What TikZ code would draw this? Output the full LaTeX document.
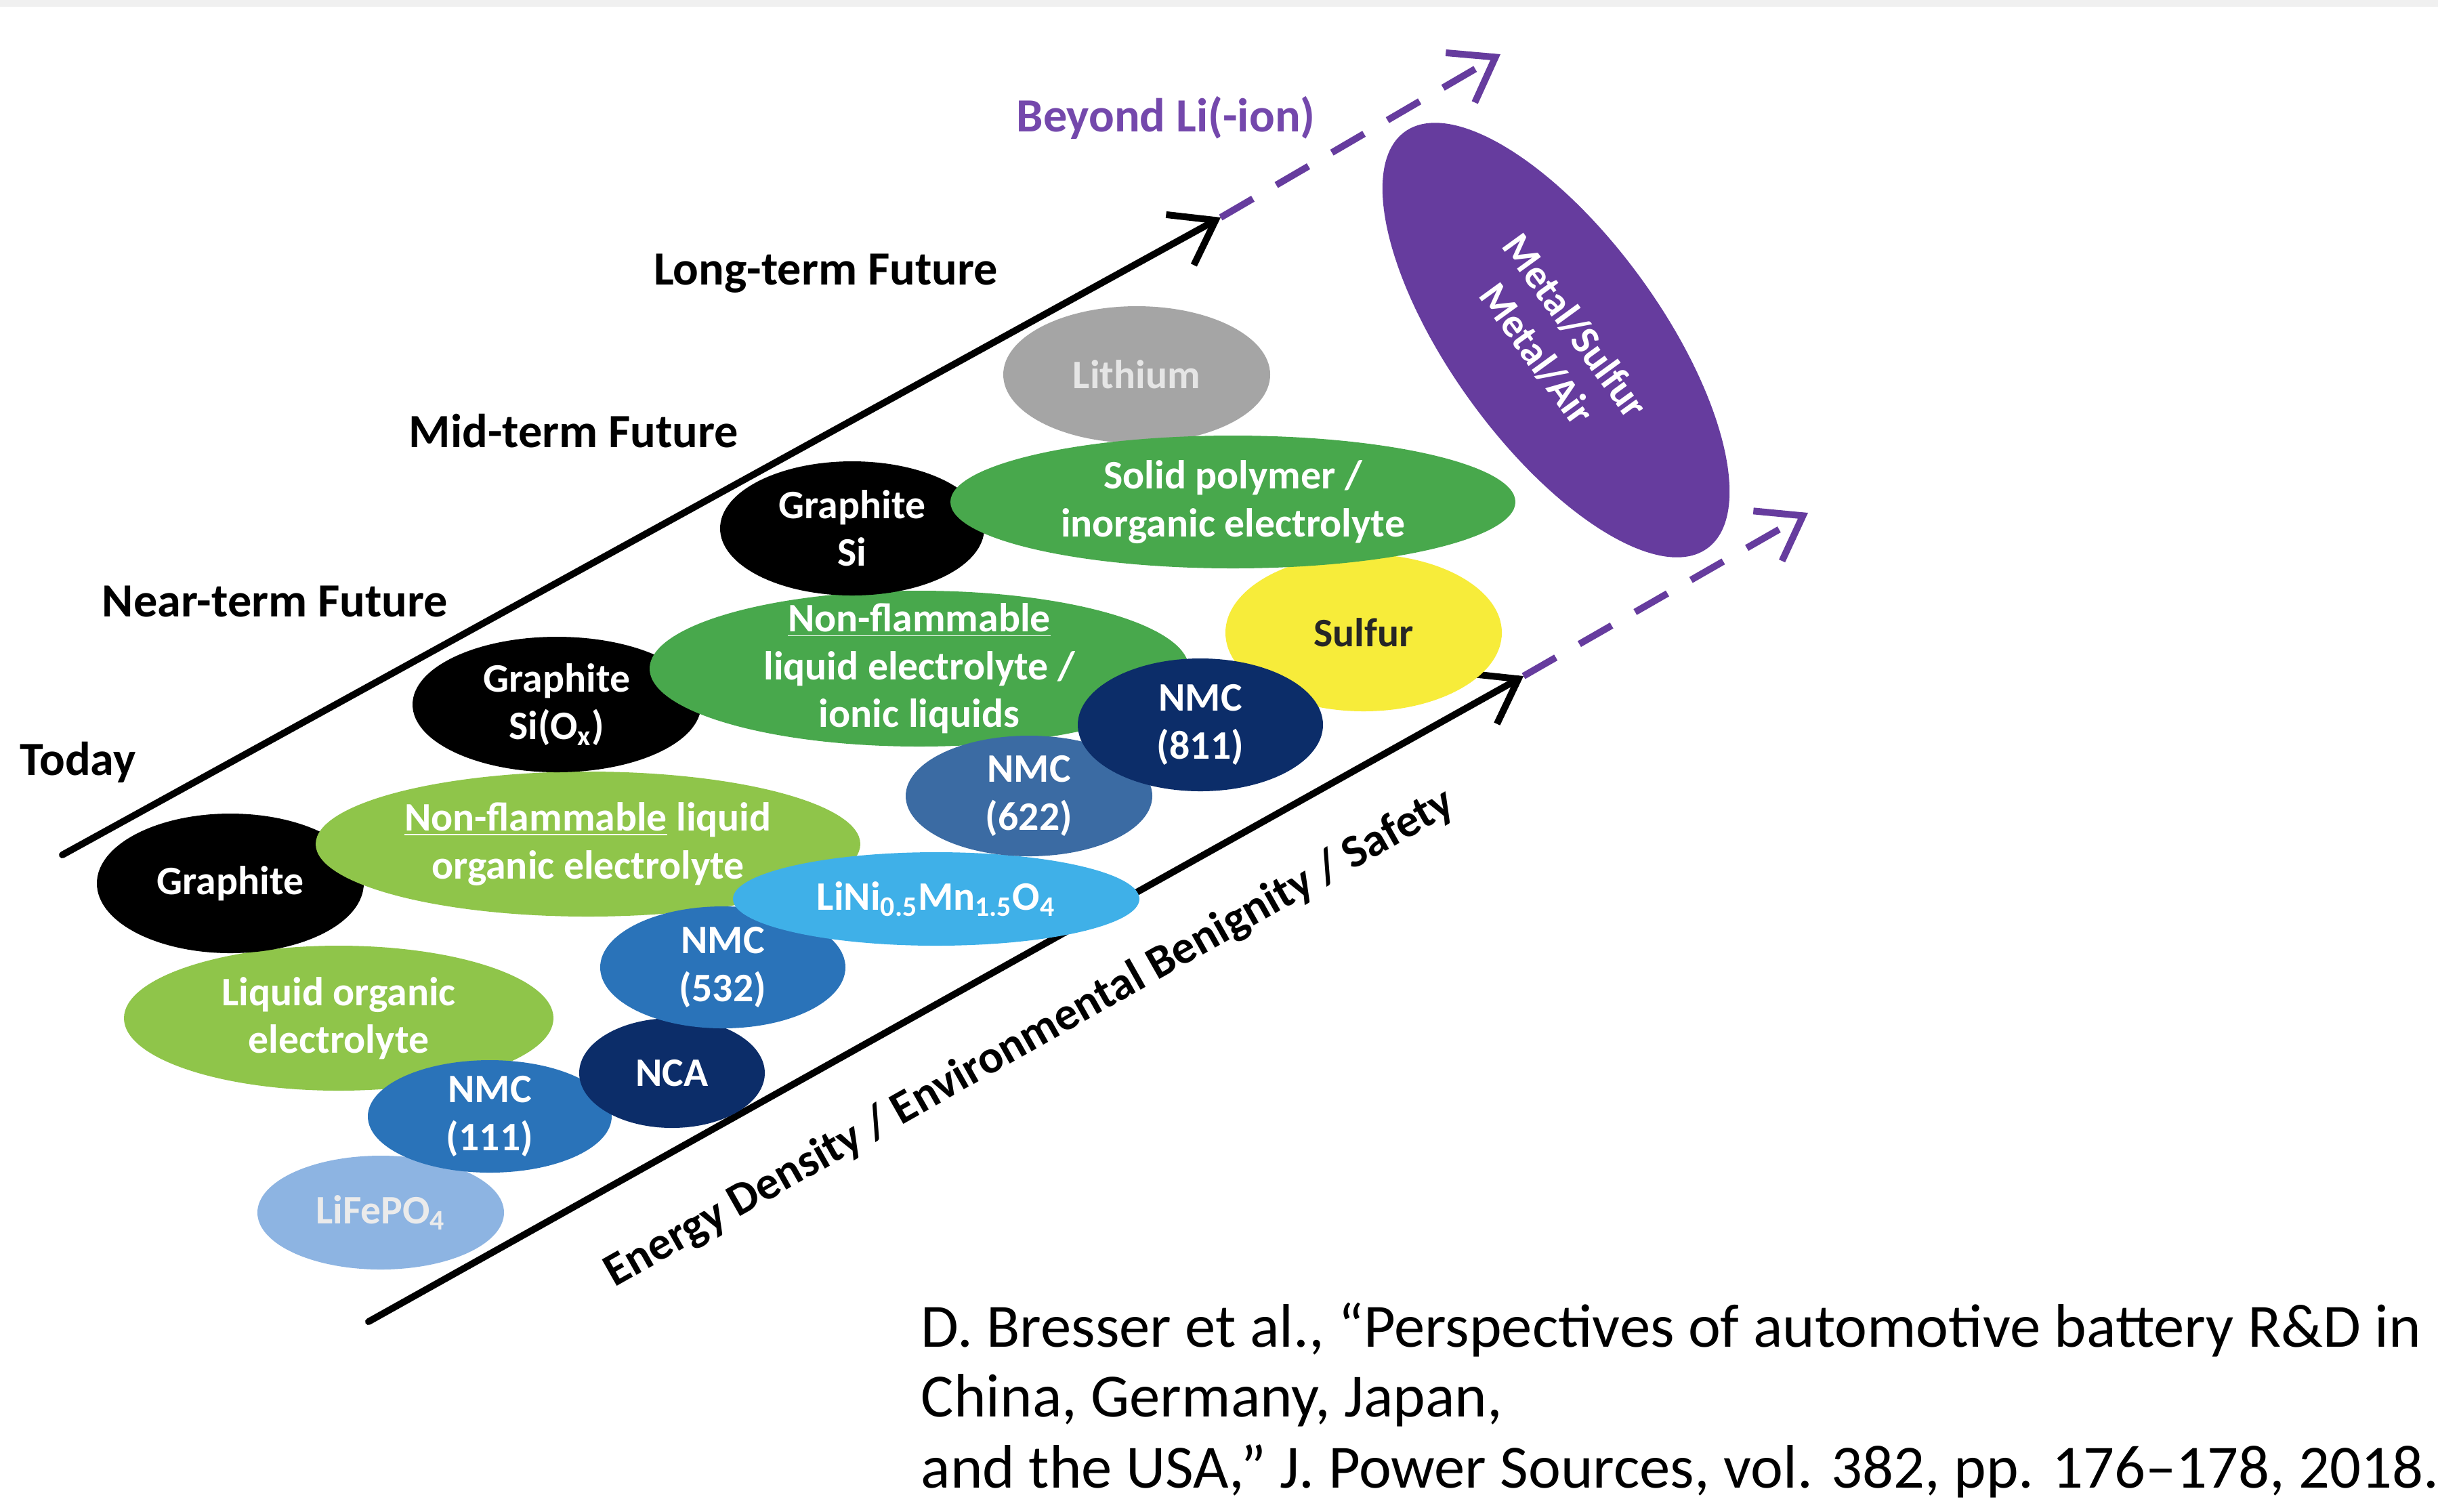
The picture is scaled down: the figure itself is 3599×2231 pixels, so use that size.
\documentclass[tikz,border=0pt]{standalone}
\usepackage{fontspec}
\setmainfont{Carlito}
\usetikzlibrary{shapes.geometric,arrows.meta}
\definecolor{lfp}{HTML}{8DB4E2}
\definecolor{lgreen}{HTML}{8FC54A}
\definecolor{dgreen}{HTML}{48A84C}
\definecolor{mblue}{HTML}{2A73B9}
\definecolor{navy}{HTML}{0C2D69}
\definecolor{lblue}{HTML}{3FB0E8}
\definecolor{sblue}{HTML}{3B6BA3}
\definecolor{sulf}{HTML}{F7EC3A}
\definecolor{lith}{HTML}{A5A5A5}
\definecolor{purp}{HTML}{663C9E}
\definecolor{purptxt}{HTML}{7448AC}
\tikzset{
  blob/.style={ellipse, inner sep=0pt, draw=none},
  lbl/.style={font=\fontsize{17}{20}\selectfont\bfseries, text=white, align=center, inner sep=0pt},
  head/.style={font=\fontsize{20}{24}\selectfont\bfseries, text=black, inner sep=0pt},
  cite/.style={font=\fontsize{25.8}{30}\selectfont, text=black, inner sep=0pt, anchor=base west},
  arr/.style={line width=1mm, line cap=round, -{Straight Barb[length=6mm,width=8.5mm]}},
  dasharr/.style={line width=1mm, draw=purp, dash pattern=on 5.5mm off 4mm, -{Straight Barb[length=6mm,width=8.5mm]}}
}
\begin{document}
\begin{tikzpicture}[x=0.1mm,y=-0.1mm]
\useasboundingbox (0,0) rectangle (3599,2231);
\fill[white] (0,0) rectangle (3599,2231);
\fill[gray!12] (0,0) rectangle (3599,10);

% arrows
\coordinate (ua0) at (92,1262);
\coordinate (ua1) at (1802,321);
\coordinate (ua2) at (2215,80);
\coordinate (la0) at (544,1951);
\coordinate (la1) at (2249,998);
\coordinate (la2) at (2669,757);
\draw[arr] (ua0) -- (ua1);
\draw[dasharr] (ua1) -- (ua2);
\draw[arr] (la0) -- (la1);
\draw[dasharr] (la1) -- (la2);

% ellipses
\node[blob, fill=lfp, minimum width=36.4mm, minimum height=16.8mm] (lifepo) at (562,1790) {};
\node[blob, fill=lgreen, minimum width=63.4mm, minimum height=21.4mm] (liqorg) at (500,1503) {};
\node[blob, fill=black, minimum width=39.4mm, minimum height=20.6mm] (graphA) at (340,1304) {};
\node[blob, fill=lgreen, minimum width=80.4mm, minimum height=21.4mm] (nforg) at (868,1246) {};
\node[blob, fill=mblue, minimum width=36mm, minimum height=16.6mm] (nmcA) at (723,1648) {};
\node[blob, fill=navy, minimum width=27.4mm, minimum height=16.2mm] (nca) at (992,1584) {};
\node[blob, fill=mblue, minimum width=36.2mm, minimum height=18mm] (nmcB) at (1067,1428) {};
\node[blob, fill=lblue, minimum width=60mm, minimum height=13.8mm] (linmo) at (1382,1327) {};
\node[blob, fill=black, minimum width=42.6mm, minimum height=20mm] (graphB) at (822,1040) {};
\node[blob, fill=dgreen, minimum width=79.6mm, minimum height=23mm] (nfion) at (1357,987) {};
\node[blob, fill=sblue, minimum width=36.4mm, minimum height=17.8mm] (nmcC) at (1519,1175) {};
\node[blob, fill=sulf, minimum width=40.8mm, minimum height=23.2mm] (sulfur) at (2013,934) {};
\node[blob, fill=navy, minimum width=36.2mm, minimum height=19.6mm] (nmcD) at (1772,1070) {};
\node[blob, fill=lith, minimum width=39.4mm, minimum height=20.2mm] (lithium) at (1678,553) {};
\node[blob, fill=black, minimum width=39mm, minimum height=19.8mm] (graphC) at (1258,780) {};
\node[blob, fill=dgreen, minimum width=83.4mm, minimum height=19.6mm] (solid) at (1820,741) {};
\node[blob, fill=purp, minimum width=76mm, minimum height=31mm, rotate=-54] (beyond) at (2297,502) {};

% labels
\node[lbl, text=white!92!black] (lifepoT) at (lifepo) {LiFePO\textsubscript{4}};
\node[lbl] (liqorgT) at (liqorg) {Liquid organic\\electrolyte};
\node[lbl] (graphAT) at (graphA) {Graphite};
\node[lbl] (nforgT) at (nforg) {\underline{Non-flammable} liquid\\organic electrolyte};
\node[lbl] (nmcAT) at (nmcA) {NMC\\(111)};
\node[lbl] (ncaT) at (nca) {NCA};
\node[lbl] (nmcBT) at (nmcB) {NMC\\(532)};
\node[lbl] (linmoT) at (linmo) {LiNi\textsubscript{0.5}Mn\textsubscript{1.5}O\textsubscript{4}};
\node[lbl] (graphBT) at (graphB) {Graphite\\Si(O\textsubscript{x})};
\node[lbl] (nfionT) at (nfion) {\underline{Non-flammable}\\liquid electrolyte /\\ionic liquids};
\node[lbl] (nmcCT) at (nmcC) {NMC\\(622)};
\node[lbl, text=black!85] (sulfurT) at (sulfur) {Sulfur};
\node[lbl] (nmcDT) at (nmcD) {NMC\\(811)};
\node[lbl, text=white!90!black] (lithiumT) at (lithium) {Lithium};
\node[lbl] (graphCT) at (graphC) {Graphite\\Si};
\node[lbl] (solidT) at (solid) {Solid polymer /\\inorganic electrolyte};
\node[lbl, rotate=-54] (beyondT) at (beyond) {Metal/Sulfur\\Metal/Air};

% headings
\node[head] (today) at (115,1125) {Today};
\node[head] (near) at (406,888) {Near-term Future};
\node[head] (mid) at (847,636) {Mid-term Future};
\node[head] (long) at (1219,404) {Long-term Future};
\node[head, text=purptxt] (beyondL) at (1721,174) {Beyond Li(-ion)};
\node[head, font=\fontsize{19.6}{24}\selectfont\bfseries, rotate=29.5] (axis) at (1520,1533) {Energy Density / Environmental Benignity / Safety};

% citation
\node[cite] (cit1) at (1359,1988) {D. Bresser et al., “Perspectives of automotive battery R\&D in};
\node[cite] (cit2) at (1359,2091) {China, Germany, Japan,};
\node[cite] (cit3) at (1359,2196) {and the USA,” J. Power Sources, vol. 382, pp. 176–178, 2018.};
\end{tikzpicture}
\end{document}
